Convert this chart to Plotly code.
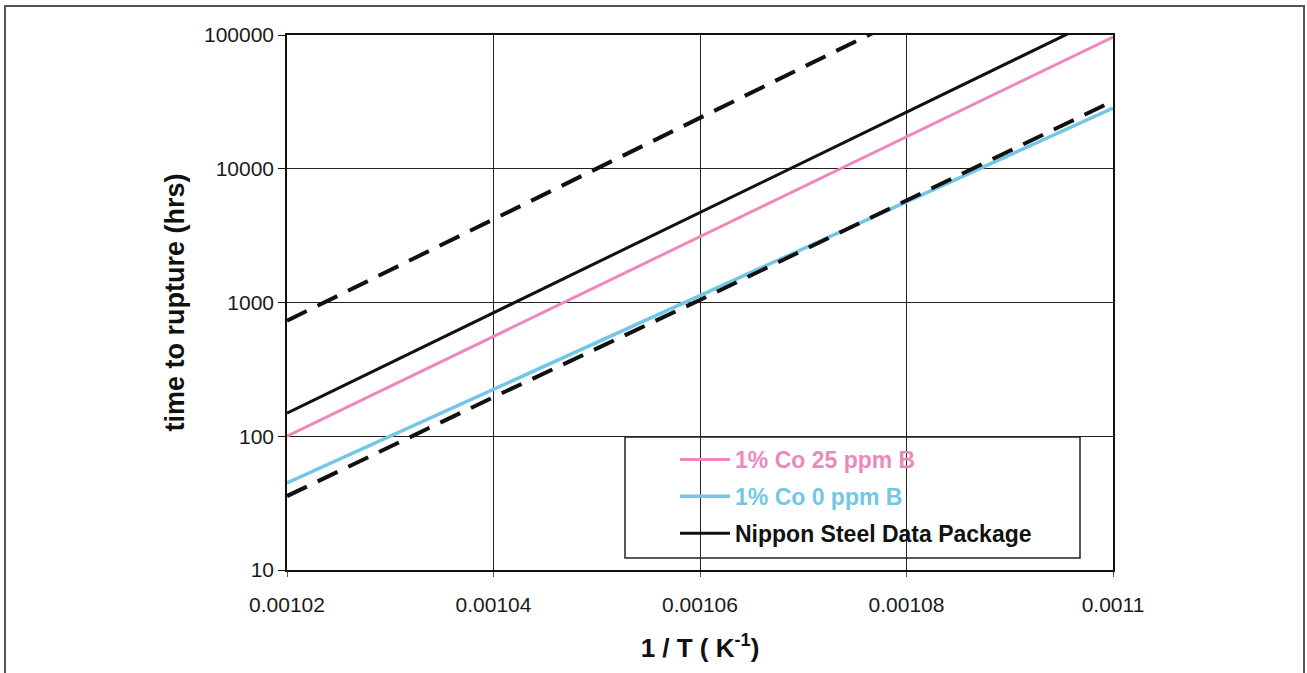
import plotly.graph_objects as go

# ---- data ----
inv_T = [0.00102, 0.00104, 0.00106, 0.00108, 0.0011]
co1_b25 = [100, 557, 3110, 17340, 96600]          # pink
co1_b0 = [44.7, 224, 1127, 5660, 28400]           # light blue
nippon_mean = [149, 840, 4720, 26550, 149000]     # black solid
nippon_upper = [730, 4200, 24000, 138000, 790000] # black dashed (upper)
nippon_lower = [35.7, 196, 1045, 5800, 32100]     # black dashed (lower)

x_ticks = [0.00102, 0.00104, 0.00106, 0.00108, 0.0011]
x_ticktext = ["0.00102", "0.00104", "0.00106", "0.00108", "0.0011"]
y_ticks = [10, 100, 1000, 10000, 100000]
y_ticktext = ["10", "100", "1000", "10000", "100000"]

PINK = "#EE88BC"
BLUE = "#72C7E7"
BLACK = "#111111"
FONT = "Liberation Sans, Arial, sans-serif"

fig = go.Figure()

fig.add_trace(go.Scatter(x=inv_T, y=nippon_upper, mode="lines", showlegend=False,
                         line=dict(color=BLACK, width=4, dash="22px,12px")))
fig.add_trace(go.Scatter(x=inv_T, y=co1_b0, mode="lines", legendgroup="b", legendrank=2,
                         name=f"<span style='color:{BLUE}'>1% Co 0 ppm B</span>",
                         line=dict(color=BLUE, width=3.5)))
fig.add_trace(go.Scatter(x=inv_T, y=nippon_lower, mode="lines", showlegend=False,
                         line=dict(color=BLACK, width=4, dash="22px,12px")))
fig.add_trace(go.Scatter(x=inv_T, y=co1_b25, mode="lines", legendgroup="a", legendrank=1,
                         name=f"<span style='color:{PINK}'>1% Co 25 ppm B</span>",
                         line=dict(color=PINK, width=3)))
fig.add_trace(go.Scatter(x=inv_T, y=nippon_mean, mode="lines", legendgroup="c", legendrank=3,
                         name="Nippon Steel Data Package",
                         line=dict(color=BLACK, width=3)))

# legend frame and outer chart frame
fig.add_shape(type="rect", xref="paper", yref="paper",
              x0=(625 - 287) / 826, x1=(1080 - 287) / 826,
              y0=1 - (558 - 35) / 535, y1=1 - (437 - 35) / 535,
              line=dict(color="#222222", width=1.5), fillcolor="white", layer="below")
fig.add_shape(type="rect", xref="paper", yref="paper",
              x0=(5 - 287) / 826, x1=(1304 - 287) / 826,
              y0=1 - (690 - 35) / 535, y1=1 + (35 - 6) / 535,
              line=dict(color="#555555", width=2), layer="below")

fig.update_layout(
    width=1307, height=673,
    margin=dict(l=287, r=194, t=35, b=103),
    paper_bgcolor="white", plot_bgcolor="white",
    font=dict(family=FONT, color="#1a1a1a", size=21),
    showlegend=True,
    legend=dict(x=(675 - 287) / 826, y=1 - (438 - 35) / 535, xanchor="left", yanchor="top",
                bgcolor="rgba(0,0,0,0)", borderwidth=0,
                font=dict(family=FONT, size=23, weight="bold", color=BLACK),
                tracegroupgap=4, itemwidth=50),
)

fig.update_xaxes(
    range=[0.00102, 0.0011], tickvals=x_ticks, ticktext=x_ticktext,
    showgrid=True, gridcolor="#222222", gridwidth=1,
    showline=True, linecolor="#111111", linewidth=1.5, mirror=True,
    ticks="outside", ticklen=5, tickcolor="#555555", ticklabelstandoff=10,
    tickfont=dict(size=21, family=FONT, color="#1a1a1a"),
    title=dict(text="<b>1 / T ( K<sup>-1</sup>)</b>", font=dict(size=26, family=FONT, color="#111111"),
               standoff=24),
    zeroline=False,
)
fig.update_yaxes(
    type="log", range=[1, 5], tickvals=y_ticks, ticktext=y_ticktext,
    showgrid=True, gridcolor="#222222", gridwidth=1,
    showline=True, linecolor="#111111", linewidth=1.5, mirror=True,
    ticks="outside", ticklen=7, tickcolor="#111111",
    tickfont=dict(size=21, family=FONT, color="#1a1a1a"),
    title=dict(text="<b>time to rupture (hrs)</b>", font=dict(size=27, family=FONT, color="#111111"),
               standoff=12),
    zeroline=False,
)

fig.write_html("out.html", config={"displayModeBar": False},
               post_script="document.body.style.margin='0';")
